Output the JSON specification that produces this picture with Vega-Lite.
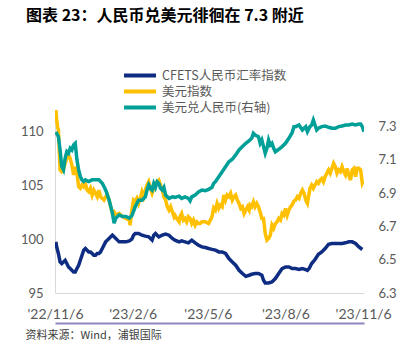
{
  "$schema": "https://vega.github.io/schema/vega-lite/v6.json",
  "width": 309,
  "height": 183,
  "autosize": {"type": "none"},
  "padding": {"left": 55, "top": 110, "right": 55, "bottom": 50},
  "background": "white",
  "title": {
    "text": "图表 23：人民币兑美元徘徊在 7.3 附近",
    "anchor": "start",
    "frame": "group",
    "dx": -29,
    "offset": 29,
    "baseline": "bottom",
    "font": "Noto Sans CJK SC",
    "fontSize": 16,
    "fontWeight": "bold",
    "color": "#000000"
  },
  "config": {"view": {"stroke": null}, "font": "Lato"},
  "datasets": {
    "main": [
      {"d": "2022-11-07", "s": "CFETS人民币汇率指数", "v": 99.75},
      {"d": "2022-11-08", "s": "CFETS人民币汇率指数", "v": 99.28},
      {"d": "2022-11-10", "s": "CFETS人民币汇率指数", "v": 98.67},
      {"d": "2022-11-12", "s": "CFETS人民币汇率指数", "v": 97.89},
      {"d": "2022-11-14", "s": "CFETS人民币汇率指数", "v": 97.74},
      {"d": "2022-11-16", "s": "CFETS人民币汇率指数", "v": 97.89},
      {"d": "2022-11-18", "s": "CFETS人民币汇率指数", "v": 98.04},
      {"d": "2022-11-20", "s": "CFETS人民币汇率指数", "v": 97.74},
      {"d": "2022-11-22", "s": "CFETS人民币汇率指数", "v": 97.42},
      {"d": "2022-11-24", "s": "CFETS人民币汇率指数", "v": 97.27},
      {"d": "2022-11-26", "s": "CFETS人民币汇率指数", "v": 97.11},
      {"d": "2022-11-28", "s": "CFETS人民币汇率指数", "v": 96.96},
      {"d": "2022-11-30", "s": "CFETS人民币汇率指数", "v": 96.96},
      {"d": "2022-12-02", "s": "CFETS人民币汇率指数", "v": 97.27},
      {"d": "2022-12-04", "s": "CFETS人民币汇率指数", "v": 97.58},
      {"d": "2022-12-06", "s": "CFETS人民币汇率指数", "v": 98.04},
      {"d": "2022-12-08", "s": "CFETS人民币汇率指数", "v": 98.51},
      {"d": "2022-12-10", "s": "CFETS人民币汇率指数", "v": 98.98},
      {"d": "2022-12-12", "s": "CFETS人民币汇率指数", "v": 99.13},
      {"d": "2022-12-14", "s": "CFETS人民币汇率指数", "v": 98.98},
      {"d": "2022-12-16", "s": "CFETS人民币汇率指数", "v": 98.82},
      {"d": "2022-12-18", "s": "CFETS人民币汇率指数", "v": 98.82},
      {"d": "2022-12-20", "s": "CFETS人民币汇率指数", "v": 98.67},
      {"d": "2022-12-22", "s": "CFETS人民币汇率指数", "v": 98.51},
      {"d": "2022-12-24", "s": "CFETS人民币汇率指数", "v": 98.51},
      {"d": "2022-12-26", "s": "CFETS人民币汇率指数", "v": 98.67},
      {"d": "2022-12-28", "s": "CFETS人民币汇率指数", "v": 98.67},
      {"d": "2022-12-30", "s": "CFETS人民币汇率指数", "v": 98.82},
      {"d": "2023-01-01", "s": "CFETS人民币汇率指数", "v": 99.13},
      {"d": "2023-01-03", "s": "CFETS人民币汇率指数", "v": 99.44},
      {"d": "2023-01-05", "s": "CFETS人民币汇率指数", "v": 99.75},
      {"d": "2023-01-07", "s": "CFETS人民币汇率指数", "v": 99.91},
      {"d": "2023-01-09", "s": "CFETS人民币汇率指数", "v": 100.07},
      {"d": "2023-01-11", "s": "CFETS人民币汇率指数", "v": 100.22},
      {"d": "2023-01-13", "s": "CFETS人民币汇率指数", "v": 100.37},
      {"d": "2023-01-15", "s": "CFETS人民币汇率指数", "v": 100.22},
      {"d": "2023-01-17", "s": "CFETS人民币汇率指数", "v": 100.07},
      {"d": "2023-01-19", "s": "CFETS人民币汇率指数", "v": 99.91},
      {"d": "2023-01-21", "s": "CFETS人民币汇率指数", "v": 99.75},
      {"d": "2023-01-25", "s": "CFETS人民币汇率指数", "v": 99.75},
      {"d": "2023-01-29", "s": "CFETS人民币汇率指数", "v": 99.75},
      {"d": "2023-02-02", "s": "CFETS人民币汇率指数", "v": 99.84},
      {"d": "2023-02-05", "s": "CFETS人民币汇率指数", "v": 100.0},
      {"d": "2023-02-07", "s": "CFETS人民币汇率指数", "v": 100.37},
      {"d": "2023-02-09", "s": "CFETS人民币汇率指数", "v": 100.53},
      {"d": "2023-02-13", "s": "CFETS人民币汇率指数", "v": 100.53},
      {"d": "2023-02-17", "s": "CFETS人民币汇率指数", "v": 100.37},
      {"d": "2023-02-21", "s": "CFETS人民币汇率指数", "v": 100.28},
      {"d": "2023-02-25", "s": "CFETS人民币汇率指数", "v": 100.22},
      {"d": "2023-03-01", "s": "CFETS人民币汇率指数", "v": 99.91},
      {"d": "2023-03-03", "s": "CFETS人民币汇率指数", "v": 100.37},
      {"d": "2023-03-05", "s": "CFETS人民币汇率指数", "v": 100.53},
      {"d": "2023-03-07", "s": "CFETS人民币汇率指数", "v": 100.37},
      {"d": "2023-03-09", "s": "CFETS人民币汇率指数", "v": 100.22},
      {"d": "2023-03-13", "s": "CFETS人民币汇率指数", "v": 100.37},
      {"d": "2023-03-17", "s": "CFETS人民币汇率指数", "v": 100.47},
      {"d": "2023-03-21", "s": "CFETS人民币汇率指数", "v": 100.37},
      {"d": "2023-03-25", "s": "CFETS人民币汇率指数", "v": 100.07},
      {"d": "2023-03-28", "s": "CFETS人民币汇率指数", "v": 99.91},
      {"d": "2023-04-02", "s": "CFETS人民币汇率指数", "v": 99.75},
      {"d": "2023-04-05", "s": "CFETS人民币汇率指数", "v": 99.84},
      {"d": "2023-04-09", "s": "CFETS人民币汇率指数", "v": 99.75},
      {"d": "2023-04-13", "s": "CFETS人民币汇率指数", "v": 99.66},
      {"d": "2023-04-17", "s": "CFETS人民币汇率指数", "v": 99.91},
      {"d": "2023-04-21", "s": "CFETS人民币汇率指数", "v": 99.66},
      {"d": "2023-04-25", "s": "CFETS人民币汇率指数", "v": 99.44},
      {"d": "2023-04-29", "s": "CFETS人民币汇率指数", "v": 99.28},
      {"d": "2023-05-03", "s": "CFETS人民币汇率指数", "v": 99.22},
      {"d": "2023-05-07", "s": "CFETS人民币汇率指数", "v": 99.13},
      {"d": "2023-05-11", "s": "CFETS人民币汇率指数", "v": 99.05},
      {"d": "2023-05-15", "s": "CFETS人民币汇率指数", "v": 98.98},
      {"d": "2023-05-19", "s": "CFETS人民币汇率指数", "v": 98.82},
      {"d": "2023-05-23", "s": "CFETS人民币汇率指数", "v": 98.82},
      {"d": "2023-05-27", "s": "CFETS人民币汇率指数", "v": 98.67},
      {"d": "2023-05-31", "s": "CFETS人民币汇率指数", "v": 98.2},
      {"d": "2023-06-04", "s": "CFETS人民币汇率指数", "v": 97.89},
      {"d": "2023-06-08", "s": "CFETS人民币汇率指数", "v": 97.58},
      {"d": "2023-06-12", "s": "CFETS人民币汇率指数", "v": 97.11},
      {"d": "2023-06-16", "s": "CFETS人民币汇率指数", "v": 96.81},
      {"d": "2023-06-20", "s": "CFETS人民币汇率指数", "v": 96.55},
      {"d": "2023-06-24", "s": "CFETS人民币汇率指数", "v": 96.65},
      {"d": "2023-06-27", "s": "CFETS人民币汇率指数", "v": 96.74},
      {"d": "2023-07-01", "s": "CFETS人民币汇率指数", "v": 96.81},
      {"d": "2023-07-05", "s": "CFETS人民币汇率指数", "v": 96.81},
      {"d": "2023-07-09", "s": "CFETS人民币汇率指数", "v": 96.65},
      {"d": "2023-07-11", "s": "CFETS人民币汇率指数", "v": 96.18},
      {"d": "2023-07-13", "s": "CFETS人民币汇率指数", "v": 95.93},
      {"d": "2023-07-17", "s": "CFETS人民币汇率指数", "v": 95.93},
      {"d": "2023-07-21", "s": "CFETS人民币汇率指数", "v": 96.02},
      {"d": "2023-07-25", "s": "CFETS人民币汇率指数", "v": 96.34},
      {"d": "2023-07-29", "s": "CFETS人民币汇率指数", "v": 96.81},
      {"d": "2023-08-02", "s": "CFETS人民币汇率指数", "v": 97.27},
      {"d": "2023-08-06", "s": "CFETS人民币汇率指数", "v": 97.42},
      {"d": "2023-08-10", "s": "CFETS人民币汇率指数", "v": 97.42},
      {"d": "2023-08-14", "s": "CFETS人民币汇率指数", "v": 97.27},
      {"d": "2023-08-18", "s": "CFETS人民币汇率指数", "v": 97.27},
      {"d": "2023-08-22", "s": "CFETS人民币汇率指数", "v": 97.18},
      {"d": "2023-08-26", "s": "CFETS人民币汇率指数", "v": 97.27},
      {"d": "2023-08-30", "s": "CFETS人民币汇率指数", "v": 97.18},
      {"d": "2023-09-01", "s": "CFETS人民币汇率指数", "v": 97.11},
      {"d": "2023-09-03", "s": "CFETS人民币汇率指数", "v": 97.27},
      {"d": "2023-09-06", "s": "CFETS人民币汇率指数", "v": 97.74},
      {"d": "2023-09-10", "s": "CFETS人民币汇率指数", "v": 98.11},
      {"d": "2023-09-14", "s": "CFETS人民币汇率指数", "v": 98.6},
      {"d": "2023-09-18", "s": "CFETS人民币汇率指数", "v": 98.82},
      {"d": "2023-09-22", "s": "CFETS人民币汇率指数", "v": 99.13},
      {"d": "2023-09-26", "s": "CFETS人民币汇率指数", "v": 99.53},
      {"d": "2023-09-30", "s": "CFETS人民币汇率指数", "v": 99.6},
      {"d": "2023-10-04", "s": "CFETS人民币汇率指数", "v": 99.6},
      {"d": "2023-10-08", "s": "CFETS人民币汇率指数", "v": 99.6},
      {"d": "2023-10-12", "s": "CFETS人民币汇率指数", "v": 99.6},
      {"d": "2023-10-16", "s": "CFETS人民币汇率指数", "v": 99.66},
      {"d": "2023-10-20", "s": "CFETS人民币汇率指数", "v": 99.75},
      {"d": "2023-10-24", "s": "CFETS人民币汇率指数", "v": 99.75},
      {"d": "2023-10-28", "s": "CFETS人民币汇率指数", "v": 99.6},
      {"d": "2023-11-01", "s": "CFETS人民币汇率指数", "v": 99.28},
      {"d": "2023-11-05", "s": "CFETS人民币汇率指数", "v": 99.04},

      {"d": "2022-11-07", "s": "美元指数", "v": 112.01},
      {"d": "2022-11-08", "s": "美元指数", "v": 111.08},
      {"d": "2022-11-09", "s": "美元指数", "v": 110.46},
      {"d": "2022-11-10", "s": "美元指数", "v": 110.15},
      {"d": "2022-11-11", "s": "美元指数", "v": 108.29},
      {"d": "2022-11-12", "s": "美元指数", "v": 106.43},
      {"d": "2022-11-14", "s": "美元指数", "v": 106.27},
      {"d": "2022-11-16", "s": "美元指数", "v": 106.43},
      {"d": "2022-11-18", "s": "美元指数", "v": 107.05},
      {"d": "2022-11-20", "s": "美元指数", "v": 107.51},
      {"d": "2022-11-22", "s": "美元指数", "v": 107.82},
      {"d": "2022-11-24", "s": "美元指数", "v": 107.51},
      {"d": "2022-11-26", "s": "美元指数", "v": 106.89},
      {"d": "2022-11-28", "s": "美元指数", "v": 105.96},
      {"d": "2022-11-30", "s": "美元指数", "v": 106.73},
      {"d": "2022-12-02", "s": "美元指数", "v": 106.12},
      {"d": "2022-12-04", "s": "美元指数", "v": 104.87},
      {"d": "2022-12-06", "s": "美元指数", "v": 104.72},
      {"d": "2022-12-08", "s": "美元指数", "v": 105.03},
      {"d": "2022-12-10", "s": "美元指数", "v": 104.87},
      {"d": "2022-12-12", "s": "美元指数", "v": 105.19},
      {"d": "2022-12-14", "s": "美元指数", "v": 104.56},
      {"d": "2022-12-16", "s": "美元指数", "v": 104.4},
      {"d": "2022-12-18", "s": "美元指数", "v": 104.72},
      {"d": "2022-12-20", "s": "美元指数", "v": 104.1},
      {"d": "2022-12-22", "s": "美元指数", "v": 104.56},
      {"d": "2022-12-24", "s": "美元指数", "v": 104.26},
      {"d": "2022-12-26", "s": "美元指数", "v": 103.94},
      {"d": "2022-12-28", "s": "美元指数", "v": 104.56},
      {"d": "2022-12-30", "s": "美元指数", "v": 103.94},
      {"d": "2023-01-01", "s": "美元指数", "v": 103.79},
      {"d": "2023-01-03", "s": "美元指数", "v": 103.63},
      {"d": "2023-01-05", "s": "美元指数", "v": 103.94},
      {"d": "2023-01-07", "s": "美元指数", "v": 104.1},
      {"d": "2023-01-09", "s": "美元指数", "v": 103.63},
      {"d": "2023-01-11", "s": "美元指数", "v": 103.01},
      {"d": "2023-01-13", "s": "美元指数", "v": 102.39},
      {"d": "2023-01-15", "s": "美元指数", "v": 102.54},
      {"d": "2023-01-17", "s": "美元指数", "v": 102.23},
      {"d": "2023-01-21", "s": "美元指数", "v": 102.39},
      {"d": "2023-01-25", "s": "美元指数", "v": 102.08},
      {"d": "2023-01-29", "s": "美元指数", "v": 101.93},
      {"d": "2023-02-02", "s": "美元指数", "v": 101.77},
      {"d": "2023-02-03", "s": "美元指数", "v": 101.3},
      {"d": "2023-02-05", "s": "美元指数", "v": 102.7},
      {"d": "2023-02-07", "s": "美元指数", "v": 103.63},
      {"d": "2023-02-09", "s": "美元指数", "v": 103.47},
      {"d": "2023-02-11", "s": "美元指数", "v": 103.79},
      {"d": "2023-02-13", "s": "美元指数", "v": 103.32},
      {"d": "2023-02-15", "s": "美元指数", "v": 103.79},
      {"d": "2023-02-17", "s": "美元指数", "v": 104.4},
      {"d": "2023-02-19", "s": "美元指数", "v": 103.94},
      {"d": "2023-02-21", "s": "美元指数", "v": 104.56},
      {"d": "2023-02-23", "s": "美元指数", "v": 105.03},
      {"d": "2023-02-25", "s": "美元指数", "v": 105.34},
      {"d": "2023-02-27", "s": "美元指数", "v": 104.72},
      {"d": "2023-03-01", "s": "美元指数", "v": 104.26},
      {"d": "2023-03-03", "s": "美元指数", "v": 104.72},
      {"d": "2023-03-05", "s": "美元指数", "v": 105.19},
      {"d": "2023-03-07", "s": "美元指数", "v": 105.34},
      {"d": "2023-03-09", "s": "美元指数", "v": 105.49},
      {"d": "2023-03-11", "s": "美元指数", "v": 105.03},
      {"d": "2023-03-13", "s": "美元指数", "v": 104.56},
      {"d": "2023-03-15", "s": "美元指数", "v": 103.94},
      {"d": "2023-03-17", "s": "美元指数", "v": 103.63},
      {"d": "2023-03-19", "s": "美元指数", "v": 103.01},
      {"d": "2023-03-21", "s": "美元指数", "v": 102.7},
      {"d": "2023-03-23", "s": "美元指数", "v": 103.01},
      {"d": "2023-03-25", "s": "美元指数", "v": 102.54},
      {"d": "2023-03-27", "s": "美元指数", "v": 102.08},
      {"d": "2023-03-28", "s": "美元指数", "v": 102.23},
      {"d": "2023-03-30", "s": "美元指数", "v": 101.93},
      {"d": "2023-04-02", "s": "美元指数", "v": 101.61},
      {"d": "2023-04-03", "s": "美元指数", "v": 102.08},
      {"d": "2023-04-05", "s": "美元指数", "v": 102.39},
      {"d": "2023-04-07", "s": "美元指数", "v": 101.77},
      {"d": "2023-04-09", "s": "美元指数", "v": 101.93},
      {"d": "2023-04-11", "s": "美元指数", "v": 101.61},
      {"d": "2023-04-13", "s": "美元指数", "v": 102.08},
      {"d": "2023-04-15", "s": "美元指数", "v": 101.93},
      {"d": "2023-04-17", "s": "美元指数", "v": 101.46},
      {"d": "2023-04-19", "s": "美元指数", "v": 101.77},
      {"d": "2023-04-21", "s": "美元指数", "v": 101.3},
      {"d": "2023-04-23", "s": "美元指数", "v": 101.61},
      {"d": "2023-04-25", "s": "美元指数", "v": 101.46},
      {"d": "2023-04-27", "s": "美元指数", "v": 101.46},
      {"d": "2023-04-29", "s": "美元指数", "v": 101.61},
      {"d": "2023-05-03", "s": "美元指数", "v": 101.61},
      {"d": "2023-05-07", "s": "美元指数", "v": 101.46},
      {"d": "2023-05-11", "s": "美元指数", "v": 102.1},
      {"d": "2023-05-13", "s": "美元指数", "v": 102.9},
      {"d": "2023-05-15", "s": "美元指数", "v": 102.7},
      {"d": "2023-05-17", "s": "美元指数", "v": 103.32},
      {"d": "2023-05-19", "s": "美元指数", "v": 102.86},
      {"d": "2023-05-21", "s": "美元指数", "v": 103.17},
      {"d": "2023-05-23", "s": "美元指数", "v": 103.01},
      {"d": "2023-05-25", "s": "美元指数", "v": 104.1},
      {"d": "2023-05-27", "s": "美元指数", "v": 103.63},
      {"d": "2023-05-29", "s": "美元指数", "v": 104.1},
      {"d": "2023-05-31", "s": "美元指数", "v": 103.94},
      {"d": "2023-06-02", "s": "美元指数", "v": 104.26},
      {"d": "2023-06-04", "s": "美元指数", "v": 103.63},
      {"d": "2023-06-06", "s": "美元指数", "v": 103.94},
      {"d": "2023-06-08", "s": "美元指数", "v": 104.1},
      {"d": "2023-06-10", "s": "美元指数", "v": 103.63},
      {"d": "2023-06-12", "s": "美元指数", "v": 103.32},
      {"d": "2023-06-14", "s": "美元指数", "v": 102.86},
      {"d": "2023-06-16", "s": "美元指数", "v": 103.01},
      {"d": "2023-06-18", "s": "美元指数", "v": 102.39},
      {"d": "2023-06-20", "s": "美元指数", "v": 102.7},
      {"d": "2023-06-22", "s": "美元指数", "v": 103.01},
      {"d": "2023-06-24", "s": "美元指数", "v": 102.7},
      {"d": "2023-06-25", "s": "美元指数", "v": 103.17},
      {"d": "2023-06-27", "s": "美元指数", "v": 103.01},
      {"d": "2023-06-29", "s": "美元指数", "v": 103.47},
      {"d": "2023-07-01", "s": "美元指数", "v": 103.01},
      {"d": "2023-07-03", "s": "美元指数", "v": 103.32},
      {"d": "2023-07-05", "s": "美元指数", "v": 103.01},
      {"d": "2023-07-07", "s": "美元指数", "v": 102.54},
      {"d": "2023-07-09", "s": "美元指数", "v": 101.93},
      {"d": "2023-07-11", "s": "美元指数", "v": 101.93},
      {"d": "2023-07-13", "s": "美元指数", "v": 100.53},
      {"d": "2023-07-15", "s": "美元指数", "v": 99.91},
      {"d": "2023-07-17", "s": "美元指数", "v": 100.07},
      {"d": "2023-07-19", "s": "美元指数", "v": 100.37},
      {"d": "2023-07-21", "s": "美元指数", "v": 101.3},
      {"d": "2023-07-23", "s": "美元指数", "v": 101.0},
      {"d": "2023-07-25", "s": "美元指数", "v": 101.46},
      {"d": "2023-07-27", "s": "美元指数", "v": 101.61},
      {"d": "2023-07-29", "s": "美元指数", "v": 101.93},
      {"d": "2023-07-31", "s": "美元指数", "v": 101.77},
      {"d": "2023-08-02", "s": "美元指数", "v": 102.39},
      {"d": "2023-08-04", "s": "美元指数", "v": 102.23},
      {"d": "2023-08-06", "s": "美元指数", "v": 102.86},
      {"d": "2023-08-08", "s": "美元指数", "v": 102.23},
      {"d": "2023-08-10", "s": "美元指数", "v": 102.7},
      {"d": "2023-08-12", "s": "美元指数", "v": 103.01},
      {"d": "2023-08-14", "s": "美元指数", "v": 103.2},
      {"d": "2023-08-16", "s": "美元指数", "v": 103.55},
      {"d": "2023-08-18", "s": "美元指数", "v": 103.63},
      {"d": "2023-08-20", "s": "美元指数", "v": 103.94},
      {"d": "2023-08-22", "s": "美元指数", "v": 103.79},
      {"d": "2023-08-24", "s": "美元指数", "v": 104.26},
      {"d": "2023-08-26", "s": "美元指数", "v": 104.56},
      {"d": "2023-08-28", "s": "美元指数", "v": 104.26},
      {"d": "2023-08-30", "s": "美元指数", "v": 103.63},
      {"d": "2023-09-01", "s": "美元指数", "v": 103.32},
      {"d": "2023-09-03", "s": "美元指数", "v": 104.26},
      {"d": "2023-09-04", "s": "美元指数", "v": 104.72},
      {"d": "2023-09-06", "s": "美元指数", "v": 105.03},
      {"d": "2023-09-08", "s": "美元指数", "v": 104.72},
      {"d": "2023-09-10", "s": "美元指数", "v": 105.03},
      {"d": "2023-09-12", "s": "美元指数", "v": 105.34},
      {"d": "2023-09-14", "s": "美元指数", "v": 105.19},
      {"d": "2023-09-16", "s": "美元指数", "v": 105.49},
      {"d": "2023-09-18", "s": "美元指数", "v": 105.65},
      {"d": "2023-09-20", "s": "美元指数", "v": 105.34},
      {"d": "2023-09-22", "s": "美元指数", "v": 105.8},
      {"d": "2023-09-24", "s": "美元指数", "v": 106.12},
      {"d": "2023-09-26", "s": "美元指数", "v": 106.43},
      {"d": "2023-09-28", "s": "美元指数", "v": 106.12},
      {"d": "2023-09-30", "s": "美元指数", "v": 106.58},
      {"d": "2023-10-02", "s": "美元指数", "v": 107.05},
      {"d": "2023-10-04", "s": "美元指数", "v": 106.73},
      {"d": "2023-10-06", "s": "美元指数", "v": 106.12},
      {"d": "2023-10-08", "s": "美元指数", "v": 106.43},
      {"d": "2023-10-10", "s": "美元指数", "v": 106.27},
      {"d": "2023-10-12", "s": "美元指数", "v": 106.73},
      {"d": "2023-10-14", "s": "美元指数", "v": 106.27},
      {"d": "2023-10-16", "s": "美元指数", "v": 105.96},
      {"d": "2023-10-18", "s": "美元指数", "v": 106.58},
      {"d": "2023-10-20", "s": "美元指数", "v": 105.96},
      {"d": "2023-10-22", "s": "美元指数", "v": 105.49},
      {"d": "2023-10-24", "s": "美元指数", "v": 106.43},
      {"d": "2023-10-26", "s": "美元指数", "v": 106.58},
      {"d": "2023-10-28", "s": "美元指数", "v": 105.8},
      {"d": "2023-10-30", "s": "美元指数", "v": 106.58},
      {"d": "2023-11-01", "s": "美元指数", "v": 106.58},
      {"d": "2023-11-03", "s": "美元指数", "v": 106.43},
      {"d": "2023-11-05", "s": "美元指数", "v": 105.19},
      {"d": "2023-11-06", "s": "美元指数", "v": 105.34},

      {"d": "2022-11-07", "s": "美元兑人民币(右轴)", "v": 7.268},
      {"d": "2022-11-10", "s": "美元兑人民币(右轴)", "v": 7.24},
      {"d": "2022-11-12", "s": "美元兑人民币(右轴)", "v": 7.16},
      {"d": "2022-11-14", "s": "美元兑人民币(右轴)", "v": 7.06},
      {"d": "2022-11-16", "s": "美元兑人民币(右轴)", "v": 7.04},
      {"d": "2022-11-18", "s": "美元兑人民币(右轴)", "v": 7.11},
      {"d": "2022-11-20", "s": "美元兑人民币(右轴)", "v": 7.15},
      {"d": "2022-11-22", "s": "美元兑人民币(右轴)", "v": 7.14},
      {"d": "2022-11-24", "s": "美元兑人民币(右轴)", "v": 7.17},
      {"d": "2022-11-26", "s": "美元兑人民币(右轴)", "v": 7.16},
      {"d": "2022-11-28", "s": "美元兑人民币(右轴)", "v": 7.19},
      {"d": "2022-11-30", "s": "美元兑人民币(右轴)", "v": 7.2},
      {"d": "2022-12-02", "s": "美元兑人民币(右轴)", "v": 7.1},
      {"d": "2022-12-04", "s": "美元兑人民币(右轴)", "v": 7.04},
      {"d": "2022-12-06", "s": "美元兑人民币(右轴)", "v": 7.0},
      {"d": "2022-12-08", "s": "美元兑人民币(右轴)", "v": 6.98},
      {"d": "2022-12-10", "s": "美元兑人民币(右轴)", "v": 6.97},
      {"d": "2022-12-12", "s": "美元兑人民币(右轴)", "v": 6.98},
      {"d": "2022-12-16", "s": "美元兑人民币(右轴)", "v": 6.97},
      {"d": "2022-12-20", "s": "美元兑人民币(右轴)", "v": 6.98},
      {"d": "2022-12-24", "s": "美元兑人民币(右轴)", "v": 6.98},
      {"d": "2022-12-28", "s": "美元兑人民币(右轴)", "v": 6.98},
      {"d": "2023-01-01", "s": "美元兑人民币(右轴)", "v": 6.96},
      {"d": "2023-01-05", "s": "美元兑人民币(右轴)", "v": 6.92},
      {"d": "2023-01-09", "s": "美元兑人民币(右轴)", "v": 6.86},
      {"d": "2023-01-13", "s": "美元兑人民币(右轴)", "v": 6.78},
      {"d": "2023-01-15", "s": "美元兑人民币(右轴)", "v": 6.72},
      {"d": "2023-01-17", "s": "美元兑人民币(右轴)", "v": 6.75},
      {"d": "2023-01-21", "s": "美元兑人民币(右轴)", "v": 6.77},
      {"d": "2023-01-25", "s": "美元兑人民币(右轴)", "v": 6.76},
      {"d": "2023-01-29", "s": "美元兑人民币(右轴)", "v": 6.76},
      {"d": "2023-02-02", "s": "美元兑人民币(右轴)", "v": 6.75},
      {"d": "2023-02-05", "s": "美元兑人民币(右轴)", "v": 6.764},
      {"d": "2023-02-09", "s": "美元兑人民币(右轴)", "v": 6.818},
      {"d": "2023-02-13", "s": "美元兑人民币(右轴)", "v": 6.858},
      {"d": "2023-02-17", "s": "美元兑人民币(右轴)", "v": 6.858},
      {"d": "2023-02-21", "s": "美元兑人民币(右轴)", "v": 6.878},
      {"d": "2023-02-23", "s": "美元兑人民币(右轴)", "v": 6.919},
      {"d": "2023-02-25", "s": "美元兑人民币(右轴)", "v": 6.949},
      {"d": "2023-02-27", "s": "美元兑人民币(右轴)", "v": 6.929},
      {"d": "2023-03-01", "s": "美元兑人民币(右轴)", "v": 6.919},
      {"d": "2023-03-03", "s": "美元兑人民币(右轴)", "v": 6.959},
      {"d": "2023-03-05", "s": "美元兑人民币(右轴)", "v": 6.935},
      {"d": "2023-03-07", "s": "美元兑人民币(右轴)", "v": 6.969},
      {"d": "2023-03-09", "s": "美元兑人民币(右轴)", "v": 6.959},
      {"d": "2023-03-11", "s": "美元兑人民币(右轴)", "v": 6.929},
      {"d": "2023-03-13", "s": "美元兑人民币(右轴)", "v": 6.919},
      {"d": "2023-03-15", "s": "美元兑人民币(右轴)", "v": 6.935},
      {"d": "2023-03-17", "s": "美元兑人民币(右轴)", "v": 6.889},
      {"d": "2023-03-21", "s": "美元兑人民币(右轴)", "v": 6.869},
      {"d": "2023-03-25", "s": "美元兑人民币(右轴)", "v": 6.878},
      {"d": "2023-03-28", "s": "美元兑人民币(右轴)", "v": 6.875},
      {"d": "2023-04-02", "s": "美元兑人民币(右轴)", "v": 6.882},
      {"d": "2023-04-05", "s": "美元兑人民币(右轴)", "v": 6.869},
      {"d": "2023-04-09", "s": "美元兑人民币(右轴)", "v": 6.878},
      {"d": "2023-04-13", "s": "美元兑人民币(右轴)", "v": 6.869},
      {"d": "2023-04-15", "s": "美元兑人民币(右轴)", "v": 6.854},
      {"d": "2023-04-17", "s": "美元兑人民币(右轴)", "v": 6.878},
      {"d": "2023-04-21", "s": "美元兑人民币(右轴)", "v": 6.889},
      {"d": "2023-04-25", "s": "美元兑人民币(右轴)", "v": 6.908},
      {"d": "2023-04-29", "s": "美元兑人民币(右轴)", "v": 6.919},
      {"d": "2023-05-03", "s": "美元兑人民币(右轴)", "v": 6.915},
      {"d": "2023-05-07", "s": "美元兑人民币(右轴)", "v": 6.923},
      {"d": "2023-05-11", "s": "美元兑人民币(右轴)", "v": 6.935},
      {"d": "2023-05-13", "s": "美元兑人民币(右轴)", "v": 6.959},
      {"d": "2023-05-15", "s": "美元兑人民币(右轴)", "v": 6.969},
      {"d": "2023-05-19", "s": "美元兑人民币(右轴)", "v": 6.999},
      {"d": "2023-05-23", "s": "美元兑人民币(右轴)", "v": 7.029},
      {"d": "2023-05-27", "s": "美元兑人民币(右轴)", "v": 7.059},
      {"d": "2023-05-31", "s": "美元兑人民币(右轴)", "v": 7.089},
      {"d": "2023-06-04", "s": "美元兑人民币(右轴)", "v": 7.104},
      {"d": "2023-06-08", "s": "美元兑人民币(右轴)", "v": 7.13},
      {"d": "2023-06-12", "s": "美元兑人民币(右轴)", "v": 7.16},
      {"d": "2023-06-16", "s": "美元兑人民币(右轴)", "v": 7.18},
      {"d": "2023-06-20", "s": "美元兑人民币(右轴)", "v": 7.2},
      {"d": "2023-06-24", "s": "美元兑人民币(右轴)", "v": 7.216},
      {"d": "2023-06-27", "s": "美元兑人民币(右轴)", "v": 7.23},
      {"d": "2023-06-29", "s": "美元兑人民币(右轴)", "v": 7.26},
      {"d": "2023-07-01", "s": "美元兑人民币(右轴)", "v": 7.25},
      {"d": "2023-07-05", "s": "美元兑人民币(右轴)", "v": 7.24},
      {"d": "2023-07-07", "s": "美元兑人民币(右轴)", "v": 7.2},
      {"d": "2023-07-09", "s": "美元兑人民币(右轴)", "v": 7.22},
      {"d": "2023-07-11", "s": "美元兑人民币(右轴)", "v": 7.18},
      {"d": "2023-07-13", "s": "美元兑人民币(右轴)", "v": 7.14},
      {"d": "2023-07-15", "s": "美元兑人民币(右轴)", "v": 7.17},
      {"d": "2023-07-17", "s": "美元兑人民币(右轴)", "v": 7.22},
      {"d": "2023-07-19", "s": "美元兑人民币(右轴)", "v": 7.19},
      {"d": "2023-07-21", "s": "美元兑人民币(右轴)", "v": 7.2},
      {"d": "2023-07-23", "s": "美元兑人民币(右轴)", "v": 7.17},
      {"d": "2023-07-25", "s": "美元兑人民币(右轴)", "v": 7.149},
      {"d": "2023-07-29", "s": "美元兑人民币(右轴)", "v": 7.164},
      {"d": "2023-08-02", "s": "美元兑人民币(右轴)", "v": 7.18},
      {"d": "2023-08-06", "s": "美元兑人民币(右轴)", "v": 7.2},
      {"d": "2023-08-10", "s": "美元兑人民币(右轴)", "v": 7.23},
      {"d": "2023-08-14", "s": "美元兑人民币(右轴)", "v": 7.265},
      {"d": "2023-08-16", "s": "美元兑人民币(右轴)", "v": 7.3},
      {"d": "2023-08-18", "s": "美元兑人民币(右轴)", "v": 7.3},
      {"d": "2023-08-22", "s": "美元兑人民币(右轴)", "v": 7.31},
      {"d": "2023-08-26", "s": "美元兑人民币(右轴)", "v": 7.28},
      {"d": "2023-08-30", "s": "美元兑人民币(右轴)", "v": 7.3},
      {"d": "2023-09-01", "s": "美元兑人民币(右轴)", "v": 7.27},
      {"d": "2023-09-03", "s": "美元兑人民币(右轴)", "v": 7.29},
      {"d": "2023-09-04", "s": "美元兑人民币(右轴)", "v": 7.3},
      {"d": "2023-09-06", "s": "美元兑人民币(右轴)", "v": 7.31},
      {"d": "2023-09-08", "s": "美元兑人民币(右轴)", "v": 7.34},
      {"d": "2023-09-10", "s": "美元兑人民币(右轴)", "v": 7.31},
      {"d": "2023-09-12", "s": "美元兑人民币(右轴)", "v": 7.28},
      {"d": "2023-09-14", "s": "美元兑人民币(右轴)", "v": 7.29},
      {"d": "2023-09-18", "s": "美元兑人民币(右轴)", "v": 7.3},
      {"d": "2023-09-22", "s": "美元兑人民币(右轴)", "v": 7.304},
      {"d": "2023-09-26", "s": "美元兑人民币(右轴)", "v": 7.296},
      {"d": "2023-09-30", "s": "美元兑人民币(右轴)", "v": 7.29},
      {"d": "2023-10-04", "s": "美元兑人民币(右轴)", "v": 7.29},
      {"d": "2023-10-08", "s": "美元兑人民币(右轴)", "v": 7.3},
      {"d": "2023-10-12", "s": "美元兑人民币(右轴)", "v": 7.304},
      {"d": "2023-10-16", "s": "美元兑人民币(右轴)", "v": 7.31},
      {"d": "2023-10-20", "s": "美元兑人民币(右轴)", "v": 7.31},
      {"d": "2023-10-24", "s": "美元兑人民币(右轴)", "v": 7.316},
      {"d": "2023-10-28", "s": "美元兑人民币(右轴)", "v": 7.31},
      {"d": "2023-11-01", "s": "美元兑人民币(右轴)", "v": 7.316},
      {"d": "2023-11-03", "s": "美元兑人民币(右轴)", "v": 7.316},
      {"d": "2023-11-05", "s": "美元兑人民币(右轴)", "v": 7.3},
      {"d": "2023-11-07", "s": "美元兑人民币(右轴)", "v": 7.27}
    ]
  },
  "data": {"name": "main"},
  "encoding": {
    "x": {
      "field": "d",
      "type": "temporal",
      "scale": {
        "domain": [
          {"year": 2022, "month": 11, "date": 6, "utc": true},
          {"year": 2023, "month": 11, "date": 7, "utc": true}
        ],
        "nice": false
      }
    },
    "color": {
      "field": "s",
      "type": "nominal",
      "scale": {
        "domain": ["CFETS人民币汇率指数", "美元指数", "美元兑人民币(右轴)"],
        "range": ["#0E2C82", "#FFC000", "#009F98"]
      },
      "legend": {
        "orient": "none",
        "legendX": 67,
        "legendY": -41,
        "title": null,
        "padding": 0,
        "symbolType": "stroke",
        "symbolSize": 1024,
        "symbolStrokeWidth": 4,
        "clipHeight": 13,
        "labelFont": "Noto Sans CJK SC",
        "labelFontSize": 12.5,
        "labelColor": "#595959",
        "labelOffset": 4,
        "rowPadding": 3
      }
    }
  },
  "layer": [
    {
      "transform": [{"filter": "datum.s !== '美元兑人民币(右轴)'"}],
      "mark": {"type": "line", "strokeWidth": 3.5, "clip": true},
      "encoding": {
        "x": {
          "field": "d",
          "type": "temporal",
          "axis": {
            "values": [
              {"year": 2022, "month": 11, "date": 6, "utc": true},
              {"year": 2023, "month": 2, "date": 6, "utc": true},
              {"year": 2023, "month": 5, "date": 6, "utc": true},
              {"year": 2023, "month": 8, "date": 6, "utc": true},
              {"year": 2023, "month": 11, "date": 6, "utc": true}
            ],
            "labelExpr": "\"'\" + utcFormat(datum.value, '%y/%-m/%-d')",
            "labelFont": "Lato",
            "labelFontSize": 14,
            "labelColor": "#595959",
            "labelPadding": 14,
            "labelFlush": false,
            "labelOverlap": false,
            "ticks": false,
            "grid": false,
            "domainColor": "#d9d9d9",
            "domainWidth": 1,
            "title": "资料来源：Wind，浦银国际",
            "titleX": -30,
            "titleY": 42,
            "titleAlign": "left",
            "titleAnchor": "start",
            "titleBaseline": "middle",
            "titleFont": "Noto Sans CJK SC",
            "titleFontSize": 11,
            "titleFontWeight": "normal",
            "titleColor": "#404040"
          }
        },
        "y": {
          "field": "v",
          "type": "quantitative",
          "scale": {"domain": [95, 112], "nice": false, "zero": false},
          "axis": {
            "values": [95, 100, 105, 110],
            "title": null,
            "ticks": false,
            "grid": false,
            "domainColor": "#d9d9d9",
            "labelFont": "Lato",
            "labelFontSize": 13,
            "labelColor": "#595959",
            "labelPadding": 12
          }
        }
      }
    },
    {
      "transform": [{"filter": "datum.s === '美元兑人民币(右轴)'"}],
      "mark": {"type": "line", "strokeWidth": 3.5, "clip": true},
      "encoding": {
        "x": {
          "field": "d",
          "type": "temporal",
          "axis": {
            "orient": "bottom",
            "offset": 30,
            "values": [],
            "labels": false,
            "ticks": false,
            "grid": false,
            "title": null,
            "domain": true,
            "domainColor": "#8E86BF",
            "domainWidth": 2
          }
        },
        "y": {
          "field": "v",
          "type": "quantitative",
          "scale": {"domain": [6.3, 7.4], "nice": false, "zero": false},
          "axis": {
            "orient": "right",
            "values": [6.3, 6.5, 6.7, 6.9, 7.1, 7.3],
            "format": ".1f",
            "title": null,
            "ticks": false,
            "grid": false,
            "domain": false,
            "labelFont": "Lato",
            "labelFontSize": 13,
            "labelColor": "#595959",
            "labelPadding": 14
          }
        }
      }
    }
  ],
  "resolve": {"scale": {"y": "independent"}, "axis": {"x": "independent"}}
}
